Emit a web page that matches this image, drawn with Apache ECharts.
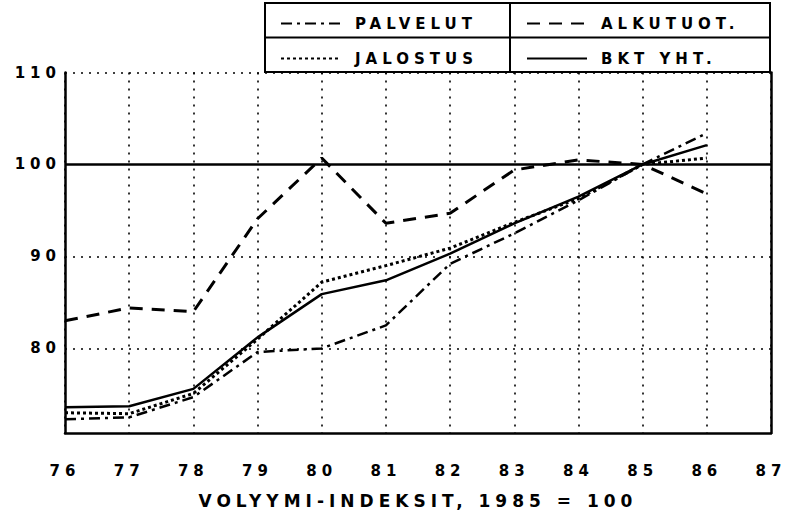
<!DOCTYPE html>
<html>
<head>
<meta charset="utf-8">
<script src="https://cdn.jsdelivr.net/npm/echarts@6/dist/echarts.min.js"></script>
<style>
  html, body { margin: 0; padding: 0; background: #fff; }
  #chart { width: 787px; height: 519px; letter-spacing: 5px; }
</style>
</head>
<body>
<div id="chart"></div>
<script>
// ---- data ----
const years = [76, 77, 78, 79, 80, 81, 82, 83, 84, 85, 86];
const palvelut = [72.3, 72.5, 74.7, 79.6, 80.0, 82.5, 89.2, 92.5, 96.1, 100.0, 103.4];
const alkutuot = [83.0, 84.4, 84.0, 94.1, 100.7, 93.6, 94.7, 99.4, 100.5, 100.0, 96.8];
const jalostus = [73.0, 72.9, 75.1, 81.0, 87.2, 89.0, 90.9, 93.7, 96.3, 100.0, 100.7];
const bkt = [73.6, 73.7, 75.6, 81.2, 85.9, 87.4, 90.3, 93.6, 96.5, 100.0, 102.1];
const yTickValues = [80, 90, 100, 110];
const seriesNames = ['PALVELUT', 'ALKUTUOT.', 'JALOSTUS', 'BKT YHT.'];
const xTitle = 'VOLYYMI-INDEKSIT, 1985 = 100';

const zip = (vals) => years.map((y, i) => [y, vals[i]]);
const FONT = 'DejaVu Sans';
const textBase = { fontFamily: FONT, fontWeight: 'bold', fontSize: 15, color: '#000' };
const dotted = { color: '#000', width: 1.6, type: [2, 6] };

const chart = echarts.init(document.getElementById('chart'), null, { renderer: 'svg' });

function legendAt(name, left, top) {
  return {
    data: [name], left: left, top: top, orient: 'horizontal',
    itemWidth: 60, itemHeight: 14, selectedMode: false,
    itemStyle: { opacity: 0 },
    textStyle: Object.assign({}, textBase, { padding: [0, 0, 0, 9] })
  };
}

chart.setOption({
  animation: false,
  backgroundColor: '#fff',
  grid: { left: 65, right: 16, top: 72.5, bottom: 86 },
  legend: [
    legendAt(seriesNames[0], 275, 11),
    legendAt(seriesNames[1], 521, 11),
    legendAt(seriesNames[2], 275, 46),
    legendAt(seriesNames[3], 521, 46)
  ],
  xAxis: {
    type: 'value', min: 76, max: 87, interval: 1,
    axisLine: { show: true, lineStyle: { color: '#000', width: 2.5 } },
    axisTick: { show: false },
    axisLabel: Object.assign({}, textBase, { margin: 30 }),
    splitLine: { show: true, lineStyle: dotted },
    name: xTitle, nameLocation: 'middle', nameGap: 59,
    nameTextStyle: Object.assign({}, textBase, { fontSize: 17 })
  },
  yAxis: [{
    type: 'value', min: 70.8, max: 110,
    axisLine: { show: true, lineStyle: { color: '#000', width: 2.5 } },
    axisTick: { show: false, customValues: yTickValues },
    axisLabel: Object.assign({}, textBase, { margin: 4, customValues: yTickValues }),
    splitLine: { show: false }
  }, {
    type: 'value', min: 70.8, max: 110, position: 'right',
    axisLine: { show: true, lineStyle: { color: '#000', width: 2.5 } },
    axisTick: { show: false }, axisLabel: { show: false }, splitLine: { show: false }
  }],
  graphic: [
    { type: 'rect', shape: { x: 265, y: 3, width: 505, height: 69 },
      style: { fill: 'rgba(0,0,0,0)', stroke: '#000', lineWidth: 2 }, z: 10 },
    { type: 'line', shape: { x1: 265, y1: 37.5, x2: 770, y2: 37.5 },
      style: { stroke: '#000', lineWidth: 2 }, z: 10 },
    { type: 'line', shape: { x1: 510, y1: 3, x2: 510, y2: 72 },
      style: { stroke: '#000', lineWidth: 2 }, z: 10 }
  ],
  series: [
    { name: seriesNames[0], type: 'line', data: zip(palvelut), symbol: 'none',
      lineStyle: { color: '#000', width: 2.5, type: [11, 5, 3, 5] }, itemStyle: { color: '#000' } },
    { name: seriesNames[1], type: 'line', data: zip(alkutuot), symbol: 'none',
      lineStyle: { color: '#000', width: 3, type: [13, 9] }, itemStyle: { color: '#000' } },
    { name: seriesNames[2], type: 'line', data: zip(jalostus), symbol: 'none',
      lineStyle: { color: '#000', width: 3, type: [3, 3] }, itemStyle: { color: '#000' } },
    { name: seriesNames[3], type: 'line', data: zip(bkt), symbol: 'none',
      lineStyle: { color: '#000', width: 2.5, type: 'solid' }, itemStyle: { color: '#000' },
      markLine: {
        silent: true, symbol: 'none', label: { show: false },
        data: [
          { yAxis: yTickValues[0], lineStyle: dotted },
          { yAxis: yTickValues[1], lineStyle: dotted },
          { yAxis: yTickValues[3], lineStyle: dotted },
          { yAxis: yTickValues[2], lineStyle: { color: '#000', width: 2.5, type: 'solid' } }
        ]
      }
    }
  ]
});
</script>
</body>
</html>
